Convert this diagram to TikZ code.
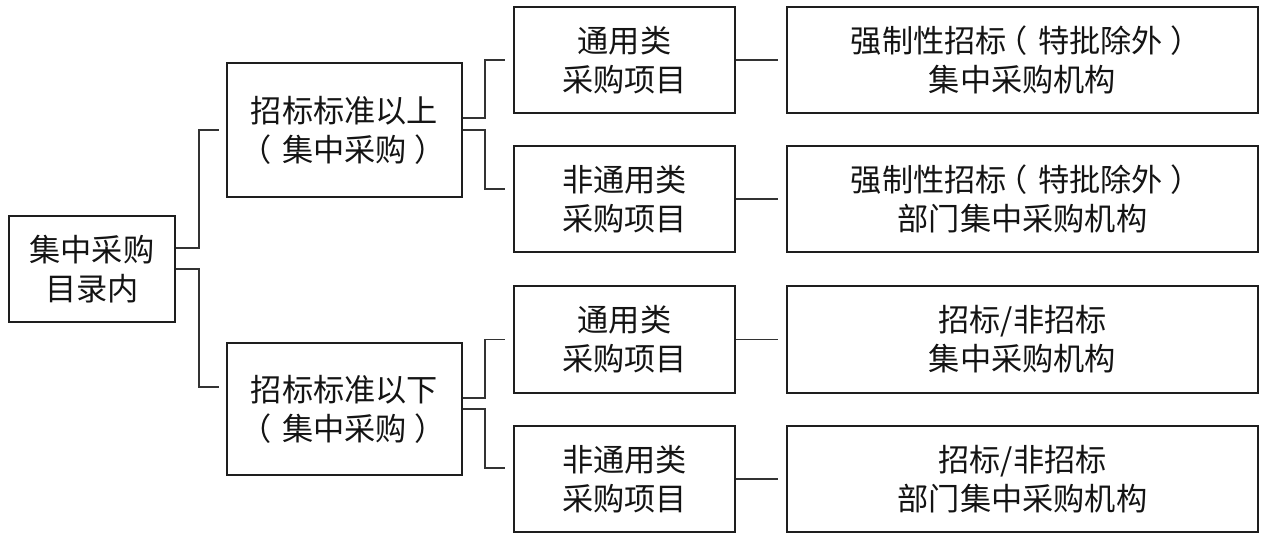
\documentclass[tikz,border=0pt]{standalone}
\usepackage{fontspec}
\newfontfamily\cjk{Noto Sans CJK SC}
\usetikzlibrary{calc,shadows}
\newlength\pxu
\setlength\pxu{0.75pt}
\newcommand\myLp{\makebox[1em][l]{\hspace{-0.33em}（}}
\newcommand\myRp{\makebox[1em][l]{\hspace{0.25em}）}}
\definecolor{boxc}{HTML}{1E1E1E}
\definecolor{linec}{HTML}{333333}
\definecolor{txt}{HTML}{141414}
\begin{document}
\begin{tikzpicture}[x=0.75pt,y=-0.75pt,
  box/.style={draw=boxc, line width=1.5pt, fill=white, rectangle, inner sep=0pt,
    align=center, text=txt, font=\cjk\fontsize{23.4}{29.25}\selectfont,
    drop shadow={shadow xshift=0.9pt, shadow yshift=-0.9pt, opacity=0.3, fill=gray}},
  link/.style={draw=linec, line width=1.1pt}]
\useasboundingbox (0,0) rectangle (1267,547);
\fill[white] (0,0) rectangle (1267,547);

\node[box, minimum width=166\pxu, minimum height=106\pxu] (root) at (92,269) {集中采购\\目录内};
\node[box, minimum width=235\pxu, minimum height=134\pxu] (mid1) at (344.5,130) {招标标准以上\\\myLp 集中采购\myRp};
\node[box, minimum width=235\pxu, minimum height=132\pxu] (mid2) at (344.5,409) {招标标准以下\\\myLp 集中采购\myRp};

\node[box, minimum width=221\pxu, minimum height=106\pxu] (c1) at (624.5,60) {通用类\\采购项目};
\node[box, minimum width=221\pxu, minimum height=106\pxu] (c2) at (624.5,199) {非通用类\\采购项目};
\node[box, minimum width=221\pxu, minimum height=107\pxu] (c3) at (624.5,339.5) {通用类\\采购项目};
\node[box, minimum width=221\pxu, minimum height=106\pxu] (c4) at (624.5,479) {非通用类\\采购项目};

\node[box, minimum width=471\pxu, minimum height=106\pxu] (r1) at (1022.5,60) {强制性招标\myLp 特批除外\myRp\\集中采购机构};
\node[box, minimum width=471\pxu, minimum height=106\pxu] (r2) at (1022.5,199) {强制性招标\myLp 特批除外\myRp\\部门集中采购机构};
\node[box, minimum width=471\pxu, minimum height=107\pxu] (r3) at (1022.5,339.5) {招标/非招标\\集中采购机构};
\node[box, minimum width=471\pxu, minimum height=106\pxu] (r4) at (1022.5,479) {招标/非招标\\部门集中采购机构};

\draw[link] ($(root.east)+(0,-21)$) -- ++(23,0) |- ($(mid1.west)+(-7,0)$);
\draw[link] (root.east) -- ++(23,0) |- ($(mid2.west)+(-7,-22)$);

\draw[link] ($(mid1.east)+(0,-12)$) -- ++(22,0) |- ($(c1.west)+(-8,0)$);
\draw[link] (mid1.east) -- ++(22,0) |- ($(c2.west)+(-8,-10)$);
\draw[link] ($(mid2.east)+(0,-11)$) -- ++(22,0) |- ($(c3.west)+(-8,0)$);
\draw[link] (mid2.east) -- ++(22,0) |- ($(c4.west)+(-8,-11)$);

\draw[link] (c1.east) -- ($(r1.west)+(-8,0)$);
\draw[link] (c2.east) -- ($(r2.west)+(-8,0)$);
\draw[link] (c3.east) -- ($(r3.west)+(-8,0)$);
\draw[link] (c4.east) -- ($(r4.west)+(-8,0)$);
\end{tikzpicture}
\end{document}
